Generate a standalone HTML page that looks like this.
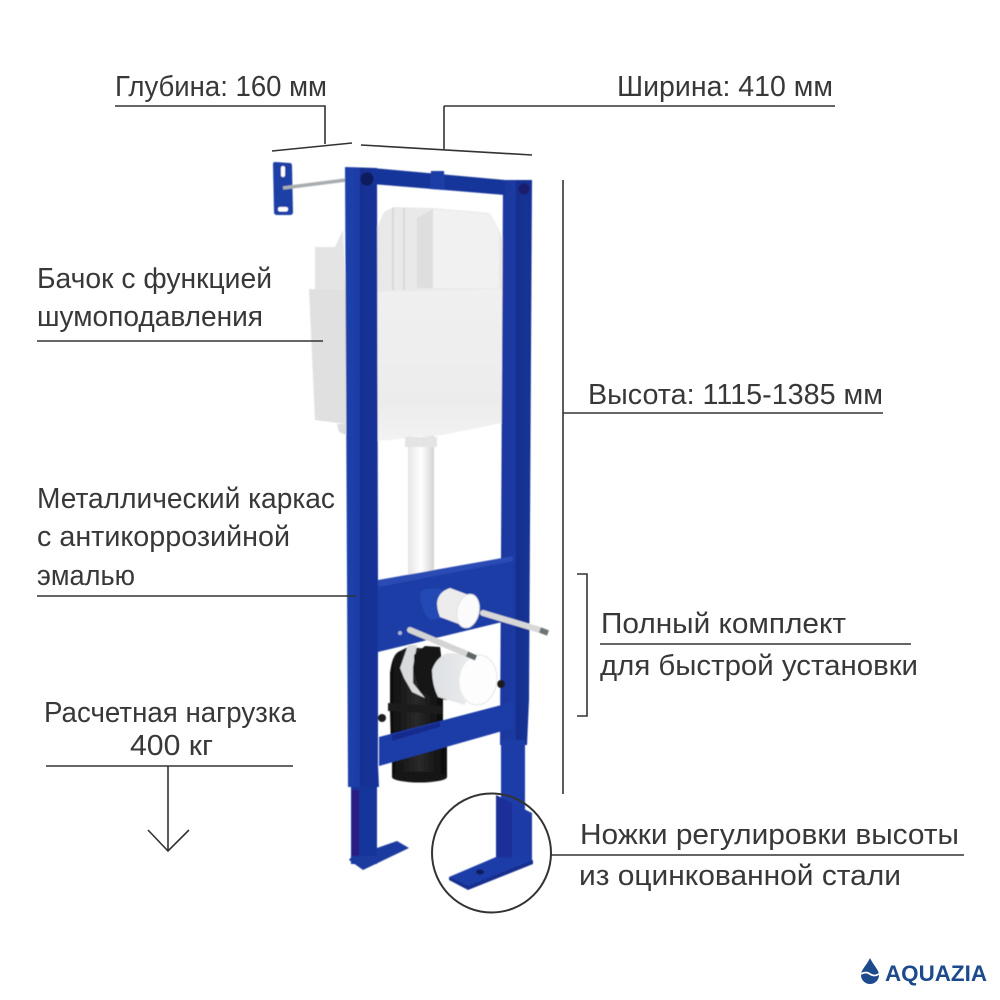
<!DOCTYPE html>
<html><head><meta charset="utf-8">
<style>html,body{margin:0;padding:0;background:#fff}svg{display:block}
text{font-family:"Liberation Sans",sans-serif;font-size:29px;fill:#383838}</style></head>
<body>
<svg width="1000" height="1000" viewBox="0 0 1000 1000" xmlns="http://www.w3.org/2000/svg">
<defs>
<linearGradient id="col" x1="0" x2="1" y1="0" y2="0"><stop offset="0" stop-color="#1e40aa"/><stop offset=".42" stop-color="#1c3ea6"/><stop offset=".45" stop-color="#162f90"/><stop offset="1" stop-color="#17349a"/></linearGradient>
<linearGradient id="col2" x1="0" x2="1" y1="0" y2="0"><stop offset="0" stop-color="#1a38a0"/><stop offset=".48" stop-color="#1b3aa2"/><stop offset=".5" stop-color="#152f8e"/><stop offset="1" stop-color="#163296"/></linearGradient>
<linearGradient id="cyl" x1="0" x2="1" y1="0" y2="0"><stop offset="0" stop-color="#dde0e3"/><stop offset=".6" stop-color="#e6e8ea"/><stop offset="1" stop-color="#f4f4f4"/></linearGradient>
<linearGradient id="pipe" x1="0" x2="1" y1="0" y2="0"><stop offset="0" stop-color="#e4e4e4"/><stop offset=".5" stop-color="#fff"/><stop offset="1" stop-color="#d4d4d4"/></linearGradient>
<linearGradient id="blk" x1="0" x2="1" y1="0" y2="0"><stop offset="0" stop-color="#0e0e0e"/><stop offset=".5" stop-color="#2a2a2a"/><stop offset="1" stop-color="#0a0a0a"/></linearGradient>
<linearGradient id="front" x1="0" x2="0" y1="0" y2="1"><stop offset="0" stop-color="#f0f0f0"/><stop offset=".75" stop-color="#ececec"/><stop offset="1" stop-color="#f3f3f3"/></linearGradient>
<filter id="s"><feGaussianBlur stdDeviation=".4"/></filter>
</defs>
<g filter="url(#s)">
<!-- wall bracket -->
<path d="M275 162L290 163Q292 163 292 166L293 212Q293 215 290 215L277 215Q274 215 274 212L273 164Q273 162 275 162Z" fill="#1f3fa5"/>
<rect x="281" y="166" width="4" height="11" rx="2" fill="#fff"/>
<rect x="278" y="207" width="10" height="4.500" rx="2" fill="#fff"/>
<path d="M283 188L346 180" stroke="#a9adb0" stroke-width="3.500"/>
<!-- cistern -->
<path d="M315 247L335 247L343 230L346 290L315 290Z" fill="#e4e4e4"/>
<path d="M309 289L346 290L346 424L315 420Z" fill="#e0e0e0"/>
<path d="M337 424L346 424L346 435L339 432Z" fill="#ddd"/>
<path d="M377 227L384 212L393 207L433 208L490 213L499 230L503 240L503 291L377 292Z" fill="#e9e9e9"/>
<path d="M417 218L433 209L490 214L499 232L499 288L417 288Z" fill="#f1f1f1"/>
<path d="M417 218L433 209L433 288L417 288Z" fill="#dedede"/>
<path d="M393 208L393 290M404 208L404 290" stroke="#d4d4d4" stroke-width="1.500"/>
<path d="M377 292L503 289L502 423L443 435L378 441Z" fill="url(#front)"/>
<!-- pipe -->
<rect x="408" y="436" width="26" height="140" fill="url(#pipe)"/>
<rect x="405" y="437" width="32" height="10" fill="#e4e4e4"/>
<!-- black drain -->
<rect x="392" y="745" width="55" height="32" fill="url(#blk)"/>
<ellipse cx="419.500" cy="777" rx="27.500" ry="5.500" fill="#151515"/>
<path d="M390 712L390 673Q392 656 398 652L408 647L440 650L443 700L443 750L391 750Z" fill="url(#blk)"/>
<path d="M388 703L442 706L442 714L388 711Z" fill="#1e1e1e"/>
<!-- frame columns -->
<path d="M345 167L377 168L378 580L378 737L378 765L379 787L348 787Z" fill="url(#col)"/>
<path d="M351 787L377 787L377 864L351 864Z" fill="#17349a"/>
<path d="M352 790L359 790L359 858L352 858Z" fill="#2a1f80"/>
<path d="M349 860L363 870L409 848L397 841L377 848L377 856L352 856Z" fill="#1c3aa0"/>
<path d="M503 180L532 180L529 700L527 745L500 745Z" fill="url(#col2)"/>
<path d="M501 740L525 740L525 815L501 815Z" fill="#1c3ea8"/>
<!-- top crossbar -->
<path d="M372 168L505 180L505 195L372 184Z" fill="#17369a"/>
<path d="M431 171L444 171L445 190L430 189Z" fill="#1c3ea6"/>
<circle cx="367" cy="179" r="6.500" fill="#111a5c"/>
<circle cx="524" cy="189" r="5.500" fill="#1a1f6c"/>
<!-- mid panel -->
<path d="M378 585L513 558L513 620L498 623L378 652Z" fill="#1a3ca6"/>
<path d="M378 580L513 556L513 561L378 587Z" fill="#2a4cb4"/>
<circle cx="400" cy="633" r="2" fill="#aab2d8"/>
<!-- stub -->
<path d="M420 592Q428 586 445 590L445 618L430 620Q420 610 420 592Z" fill="#2348b4"/>
<path d="M437 603Q438 592 450 588L474 597L467 627L440 617Q437 610 437 603Z" fill="#ececec"/>
<ellipse cx="468" cy="611" rx="11" ry="17" transform="rotate(12 468 611)" fill="#fbfbfb" stroke="#e2e2e2"/>
<!-- lower fitting -->
<path d="M400 668L408 645L417 645L413 667L413 683L425 698L412 692L404 678Z" fill="#d9dadb"/>
<path d="M414 655L425 646L440 647L447 700L436 698L420 692L414 672Z" fill="#141414"/>
<path d="M432 670Q436 658 447 653L480 655L465 705L438 697Q432 685 432 670Z" fill="url(#cyl)"/>
<ellipse cx="478" cy="680" rx="19" ry="25" transform="rotate(6 478 680)" fill="#fdfdfd" stroke="#e6e6e6"/>
<!-- lower rail -->
<path d="M379 737L513 702L513 728L379 766Z" fill="#1b3ea8"/>
<path d="M392 735L440 722L440 727L392 741Z" fill="#192c8e"/>
<circle cx="382" cy="718" r="4" fill="#1a1a1a"/>
<circle cx="501" cy="684" r="4" fill="#1a1a1a"/>
<!-- rods -->
<path d="M483 613L540 630" stroke="#d8d8d8" stroke-width="6" stroke-linecap="round"/>
<path d="M540 630L548 633" stroke="#6b7375" stroke-width="5.500"/>
<path d="M410 630L467 654" stroke="#d4d4d4" stroke-width="6" stroke-linecap="round"/>
<path d="M467 654L476 658" stroke="#5f6668" stroke-width="5.500"/>
<!-- right foot -->
<path d="M496 795L532 813L532 862L496 862Z" fill="#1a3ba6"/>
<path d="M496 795L512 803L512 862L496 862Z" fill="#1d2f98"/>
<path d="M449 877L496 857L530 859L533 863L468 889Z" fill="#1b3ca8"/>
<path d="M449 877L468 886L533 860L533 864L468 890L449 880Z" fill="#162f8c"/>
<ellipse cx="480" cy="872" rx="4" ry="2.500" fill="#111a5c"/>
</g>
<!-- leader lines -->
<g fill="none" stroke="#333" stroke-width="1.600">
<path d="M115 106H325V144"/>
<path d="M272 151L352 143"/>
<path d="M444 106H835"/>
<path d="M444 106V149"/>
<path d="M361 145L532 155"/>
<path d="M563 180V794"/>
<path d="M563 413H883"/>
<path d="M577 574H587V716H577"/>
<path d="M600 644H911"/>
<path d="M37 341H323"/>
<path d="M37 596H356"/>
<path d="M46 766H293"/>
<path d="M168 766V850M148 830L168 851L189 830"/>
<path d="M551 855H964"/>
<circle cx="491.500" cy="853" r="59.500" stroke-width="2"/>
</g>
<!-- labels -->
<text x="115" y="96" textLength="212" lengthAdjust="spacingAndGlyphs">Глубина: 160 мм</text>
<text x="617" y="96" textLength="216" lengthAdjust="spacingAndGlyphs">Ширина: 410 мм</text>
<text x="37" y="288" textLength="235" lengthAdjust="spacingAndGlyphs">Бачок с функцией</text>
<text x="37" y="326" textLength="226" lengthAdjust="spacingAndGlyphs">шумоподавления</text>
<text x="588" y="404" textLength="295" lengthAdjust="spacingAndGlyphs">Высота: 1115-1385 мм</text>
<text x="37" y="508" textLength="298" lengthAdjust="spacingAndGlyphs">Металлический каркас</text>
<text x="37" y="546" textLength="253" lengthAdjust="spacingAndGlyphs">с антикоррозийной</text>
<text x="37" y="585" textLength="98" lengthAdjust="spacingAndGlyphs">эмалью</text>
<text x="44" y="722" textLength="252" lengthAdjust="spacingAndGlyphs">Расчетная нагрузка</text>
<text x="130" y="755" textLength="83" lengthAdjust="spacingAndGlyphs">400 кг</text>
<text x="601" y="633" textLength="245" lengthAdjust="spacingAndGlyphs">Полный комплект</text>
<text x="600" y="675" textLength="318" lengthAdjust="spacingAndGlyphs">для быстрой установки</text>
<text x="580" y="844" textLength="379" lengthAdjust="spacingAndGlyphs">Ножки регулировки высоты</text>
<text x="579" y="885" textLength="322" lengthAdjust="spacingAndGlyphs">из оцинкованной стали</text>
<!-- logo -->
<path d="M870 958C866 966 861 970 861 975A8.800 8.800 0 0 0 879 975C879 970 874 966 870 958Z" fill="#1d4a8c"/>
<path d="M861 974Q866 971 870 974T879 974" fill="none" stroke="#fff" stroke-width="1.800"/>
<text x="885" y="981" textLength="102" lengthAdjust="spacingAndGlyphs" style="font-size:22px;font-weight:bold;fill:#1d4a8c">AQUAZIA</text>
</svg>
</body></html>
